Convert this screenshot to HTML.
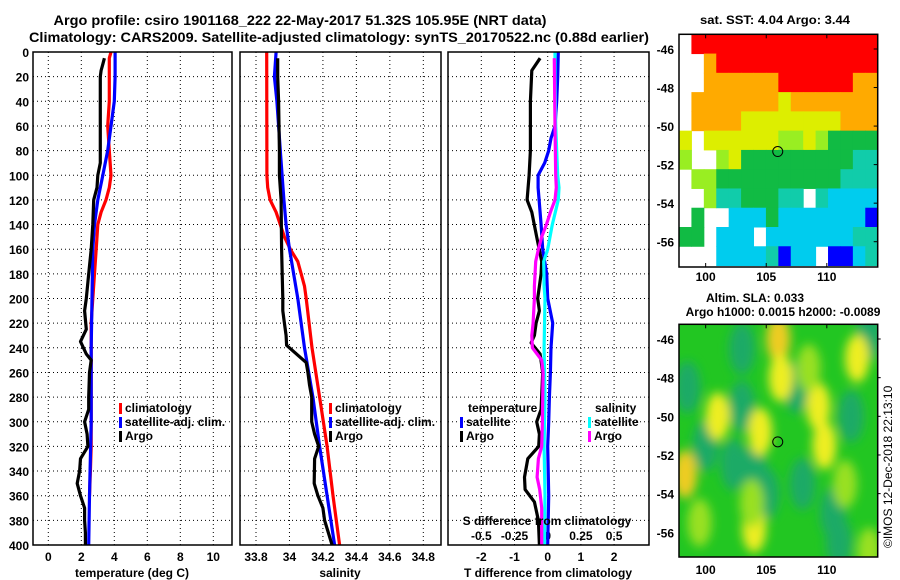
<!DOCTYPE html>
<html><head><meta charset="utf-8"><style>
body{margin:0;background:#fff;}
svg{display:block;font-family:"Liberation Sans",sans-serif;font-weight:bold;}
</style></head><body>
<svg id="c" width="900" height="580" viewBox="0 0 900 580" xmlns="http://www.w3.org/2000/svg">
<defs>
<filter id="blur" x="-50%" y="-50%" width="200%" height="200%"><feGaussianBlur stdDeviation="5"/></filter>
<clipPath id="clip2"><rect x="679" y="324.3" width="198.7" height="232.7"/></clipPath>
</defs>
<text x="300" y="25" font-size="14" textLength="493" lengthAdjust="spacingAndGlyphs" text-anchor="middle">Argo profile: csiro 1901168_222 22-May-2017 51.32S 105.95E (NRT data)</text>
<text x="339" y="42" font-size="14" textLength="620" lengthAdjust="spacingAndGlyphs" text-anchor="middle">Climatology: CARS2009. Satellite-adjusted climatology: synTS_20170522.nc (0.88d earlier)</text>
<text x="775" y="24" font-size="12" textLength="150" lengthAdjust="spacingAndGlyphs" text-anchor="middle">sat. SST: 4.04 Argo: 3.44</text>
<text x="755" y="302" font-size="12" text-anchor="middle">Altim. SLA: 0.033</text>
<text x="783" y="316" font-size="12" text-anchor="middle">Argo h1000: 0.0015 h2000: -0.0089</text>
<g id="g"></g>
<text transform="translate(892,548) rotate(-90)" font-size="12" font-weight="normal">©IMOS 12-Dec-2018 22:13:10</text>
</svg>
<script>
// ---- data ----
const depthClimT=[0,5,20,40,60,80,100,110,120,130,140,160,180,200,220,240,260,280,300,320,340,360];
const climT=[3.8,3.7,3.7,3.7,3.6,3.7,3.8,3.7,3.5,3.2,3.0,2.9,2.8,2.7,2.6,2.6,2.6,2.6,2.6,2.6,2.55,2.5];
const depthSatT=[0,20,40,60,80,100,120,140,160,200,240,300,360,400];
const satT=[4.05,4.05,4.0,3.8,3.6,3.3,3.0,2.8,2.7,2.65,2.6,2.6,2.5,2.45];
const depthArgo=[5,10,15,20,40,60,80,90,100,110,120,140,160,180,200,210,225,235,245,250,260,280,290,300,310,320,330,340,350,360,370,380,390,400];
const argoT=[3.4,3.3,3.2,3.15,3.15,3.15,3.15,3.15,3.0,2.95,2.75,2.7,2.6,2.45,2.3,2.2,2.3,1.95,2.3,2.6,2.5,2.45,2.45,2.2,2.35,2.4,1.95,1.9,1.75,1.95,2.2,2.2,2.25,2.25];
const depthClimS=[0,100,110,120,130,140,150,160,170,180,190,200,240,280,320,360,400];
const climS=[33.864,33.865,33.87,33.884,33.92,33.945,33.97,34.005,34.05,34.07,34.09,34.1,34.135,34.18,34.225,34.26,34.30];
const depthSatS=[0,20,40,80,120,140,160,200,240,280,320,360,400];
const satS=[33.92,33.91,33.925,33.945,33.967,33.98,34.0,34.05,34.09,34.14,34.18,34.225,34.27];
const depthArgoS=[5,20,40,80,100,120,160,200,210,220,230,238,252,260,270,280,300,310,320,330,350,360,370,380,400];
const argoS=[33.93,33.93,33.935,33.94,33.94,33.95,33.953,33.96,33.96,33.97,33.98,33.983,34.10,34.11,34.12,34.133,34.133,34.15,34.175,34.15,34.148,34.17,34.2,34.21,34.255];
const depthDT=[0,20,40,60,70,80,90,100,110,120,140,160,180,200,220,240,260,280,300,320,360,400];
const satDT=[0.32,0.3,0.27,0.22,0.1,0.03,-0.09,-0.29,-0.29,-0.26,-0.2,-0.15,-0.03,0,0.15,0.1,0.08,0.05,0.03,0.0,0.03,0.0];
const depthADT=[5,15,40,80,100,120,130,150,170,180,200,210,220,230,236,245,260,290,300,310,320,330,345,355,365,380,400];
const argoDT=[-0.23,-0.48,-0.52,-0.52,-0.56,-0.62,-0.48,-0.33,-0.18,-0.2,-0.3,-0.25,-0.35,-0.4,-0.5,-0.23,-0.15,-0.2,-0.33,-0.25,-0.27,-0.6,-0.7,-0.68,-0.4,-0.28,-0.25];
const depthDS=[0,20,60,100,110,120,140,160,170,190,200,240,280,320,360,400];
const satDS=[0.055,0.055,0.06,0.075,0.085,0.08,0.035,0.0,-0.03,-0.027,-0.02,-0.027,-0.02,-0.027,-0.02,-0.025];
const depthADS=[5,60,100,110,120,130,140,150,160,170,190,200,220,230,240,245,250,260,300,320,330,345,355,370,400];
const argoDS=[0.05,0.055,0.06,0.065,0.055,0.02,-0.01,-0.045,-0.07,-0.09,-0.1,-0.1,-0.11,-0.12,-0.115,-0.08,-0.045,-0.035,-0.04,-0.045,-0.07,-0.08,-0.06,-0.045,-0.045];
const depthTicks=[0,20,40,60,80,100,120,140,160,180,200,220,240,260,280,300,320,340,360,380,400];
const tempTicks=[0,2,4,6,8,10];
const salTicks=[33.8,34,34.2,34.4,34.6,34.8];
const salTickLabels=["33.8","34","34.2","34.4","34.6","34.8"];
const dTTicks=[-2,-1,0,1,2];
const dSTicks=[-0.5,-0.25,0,0.25,0.5];
const dSTickLabels=["-0.5","-0.25","0","0.25","0.5"];
const lonTicks=[100,105,110];
const latTicks=[-46,-48,-50,-52,-54,-56];
const sstRows=["WRRRRRRRRRRRRRRR","WWORRRRRRRRRRRRR","WWOOOOOORRRRRROO","WOOOOOOOYOOOOOOO","WOOOOYYYYYYYYOOO","YWYYYYYYLLYLGGGG","LWWLYGGGGGGGGGTT","WLLGGGGGGGGGGTTT","WWLTTGGGTTWTCCCC","WGWWCCCGCCCCCCCB","GGWCCCWCCCCCCCTT","WWWCCCCTBCCWBBCT"];
const slaLon=[101,106,106.2,98.3,104.5,109.3,104,112.5,109.8,103.8,99.5,113.5,108.5,111.5];
const slaLat=[-50,-46,-48,-53,-50.8,-49.5,-55.8,-47,-51.5,-54.5,-55.5,-57,-47.5,-53.5];
const slaKind=["Y","O","Y","O","Y","Y","Y","Y","Y","L","L","L","L","L"];
const tealLon=[103,107.5,104,103,112,113.5,100,108,98.5,110.5,105,102.3,111];
const tealLat=[-46.5,-48.5,-52.8,-49.5,-50,-45.8,-51.5,-53.5,-48.5,-55,-54,-52.5,-56.5];

// ---- scales ----
const Y0=52,Y1=545;
const y=d=>Y0+d*(Y1-Y0)/400;
const xT=t=>48.3+t*16.5;
const xS=s=>256+(s-33.8)*167.3;
const xDT=v=>547.7+v*33.2;
const xDS=v=>547.7+v*132.8;
const m1x=l=>679+(l-97.8)*(198.7/16.4);
const m1y=l=>49+(-46-l)*19.27;
const m2y=l=>339+(-46-l)*19.33;

const NS="http://www.w3.org/2000/svg";
const G=document.getElementById('g');
function mk(tag,attrs,parent){const e=document.createElementNS(NS,tag);for(const k in attrs)e.setAttribute(k,attrs[k]);(parent||G).appendChild(e);return e;}
function txt(x,yy,s,anchor,size){const e=mk('text',{x:x,y:yy,'font-size':size||12,'text-anchor':anchor||'middle'});e.textContent=s;return e;}

const panels=[{x0:33,x1:232},{x0:240,x1:441},{x0:448,x1:649}];
panels.forEach((p,i)=>{
  depthTicks.forEach(d=>{
    if(d>0&&d<400){const l=mk('line',{x1:p.x0,x2:p.x1,y1:y(d),y2:y(d),stroke:'#000','stroke-width':1,'stroke-dasharray':'1,3'});
    
    }
  });
});
tempTicks.forEach(t=>{const l=mk('line',{x1:xT(t),x2:xT(t),y1:Y0,y2:Y1,stroke:'#000','stroke-dasharray':'1,3'});
  
  
  const e=txt(xT(t),561,String(t));
  
  });
salTicks.forEach((s,i)=>{const l=mk('line',{x1:xS(s),x2:xS(s),y1:Y0,y2:Y1,stroke:'#000','stroke-dasharray':'1,3'});
  
  
  const e=txt(xS(s),561,salTickLabels[i]);
  
  });
dTTicks.forEach(t=>{const l=mk('line',{x1:xDT(t),x2:xDT(t),y1:Y0,y2:Y1,stroke:'#000','stroke-dasharray':'1,3'});
  
  
  const e=txt(xDT(t),561,String(t));
  
  });
dSTicks.forEach((s,i)=>{const e=txt(xDS(s),540,dSTickLabels[i]);
  
  });
depthTicks.forEach(d=>{const e=txt(29,y(d)+5,String(d),'end');
  
  });

function line(xf,ds,vs,col,name){
  const pts=ds.map((d,i)=>xf(vs[i]).toFixed(1)+','+y(d).toFixed(1)).join(' ');
  const e=mk('polyline',{points:pts,fill:'none',stroke:col,'stroke-width':3.2,'stroke-linejoin':'round'});
  
  
}
line(xT,depthClimT,climT,'#ff0000','climatology-temp-line');
line(xT,depthSatT,satT,'#0000ff','satellite-temp-line');
line(xT,depthArgo,argoT,'#000','argo-temp-line');
line(xS,depthClimS,climS,'#ff0000','climatology-salinity-line');
line(xS,depthSatS,satS,'#0000ff','satellite-salinity-line');
line(xS,depthArgoS,argoS,'#000','argo-salinity-line');
line(xDT,depthDT,satDT,'#0000ff','satellite-tdiff-line');
line(xDT,depthADT,argoDT,'#000','argo-tdiff-line');
line(xDS,depthDS,satDS,'#00ffff','satellite-sdiff-line');
line(xDS,depthADS,argoDS,'#ff00ff','argo-sdiff-line');

panels.forEach(p=>{const r=mk('rect',{x:p.x0,y:Y0,width:p.x1-p.x0,height:Y1-Y0,fill:'none',stroke:'#000','stroke-width':1.5});
  
  });

function legend(x,yy,col,label,name){
  const r=mk('rect',{x:x,y:yy-9,width:3,height:11,fill:col});
  
  
  const t=txt(x+6,yy,label,'start');
  
  
}
legend(119,412,'#ff0000','climatology','legend-climatology');
legend(119,426,'#0000ff','satellite-adj. clim.','legend-satellite-adj');
legend(119,440,'#000','Argo','legend-argo');
legend(329,412,'#ff0000','climatology','legend-climatology-sal');
legend(329,426,'#0000ff','satellite-adj. clim.','legend-satellite-adj-sal');
legend(329,440,'#000','Argo','legend-argo-sal');
let t1=txt(468,412,'temperature','start');


legend(460,426,'#0000ff','satellite','legend-temp-satellite');
legend(460,440,'#000','Argo','legend-temp-argo');
let t2=txt(595,412,'salinity','start');


legend(588,426,'#00ffff','satellite','legend-sal-satellite');
legend(588,440,'#ff00ff','Argo','legend-sal-argo');
let t3=txt(547,525,'S difference from climatology');


let a1=txt(132,577,'temperature (deg C)');


let a2=txt(340,577,'salinity');


let a3=txt(548,577,'T difference from climatology');



// ---- SST map ----
const colMap={R:'#ff0000',O:'#ffaa00',Y:'#ddee00',L:'#99ee22',G:'#11bb44',T:'#11ccaa',C:'#00ccee',B:'#0000ff',W:'#ffffff'};
const mx0=679,mw=198.7,my0=34.3,mh=232.7;
sstRows.forEach((row,r)=>{
  const y0=my0+r*19.27, hh=Math.min(19.27,my0+mh-y0);
  for(let c=0;c<row.length;c++){
    if(row[c]==='W')continue;
    const cell=mk('rect',{x:mx0+c*mw/16,y:y0,width:mw/16+0.5,height:hh+0.5,fill:colMap[row[c]]});
    
    
  }
});
let f1=mk('rect',{x:mx0,y:my0,width:mw,height:mh,fill:'none',stroke:'#000','stroke-width':1.5});


let c1=mk('circle',{cx:m1x(105.95),cy:m1y(-51.32),r:5,fill:'none',stroke:'#000','stroke-width':1});



// ---- SLA map ----
const sy0=324.3,sh=232.7;
const gbg=mk('g',{'clip-path':'url(#clip2)'});
mk('rect',{x:mx0,y:sy0,width:mw,height:sh,fill:'#22c622'},gbg);
const bl=mk('g',{filter:'url(#blur)'},gbg);
tealLon.forEach((l,i)=>{const e=mk('ellipse',{cx:m1x(l),cy:m2y(tealLat[i]),rx:13,ry:26,fill:'#1faa66'},bl);
  
  });
const kc={Y:'#eeee22',O:'#eecc22',L:'#99e022'};
slaLon.forEach((l,i)=>{const e=mk('ellipse',{cx:m1x(l),cy:m2y(slaLat[i]),rx:12,ry:24,fill:kc[slaKind[i]]},bl);
  
  });
let f2=mk('rect',{x:mx0,y:sy0,width:mw,height:sh,fill:'none',stroke:'#000','stroke-width':1.5});


let c2=mk('circle',{cx:m1x(105.95),cy:m2y(-51.32),r:5,fill:'none',stroke:'#000','stroke-width':1});



lonTicks.forEach(l=>{
  const a=txt(m1x(l),281,String(l));
  
  
  const b=txt(m1x(l),574,String(l));
  
  
  mk('line',{x1:m1x(l),x2:m1x(l),y1:my0,y2:my0+4,stroke:'#000'});
  mk('line',{x1:m1x(l),x2:m1x(l),y1:my0+mh,y2:my0+mh-4,stroke:'#000'});
  mk('line',{x1:m1x(l),x2:m1x(l),y1:sy0,y2:sy0+4,stroke:'#000'});
});
latTicks.forEach(l=>{
  const a=txt(674,m1y(l)+5,String(l),'end');
  
  
  const b=txt(674,m2y(l)+5,String(l),'end');
  
  
  mk('line',{x1:mx0+mw,x2:mx0+mw-4,y1:m1y(l),y2:m1y(l),stroke:'#000'});
  mk('line',{x1:mx0+mw,x2:mx0+mw+3,y1:m2y(l),y2:m2y(l),stroke:'#000'});
});
</script>
</body></html>
